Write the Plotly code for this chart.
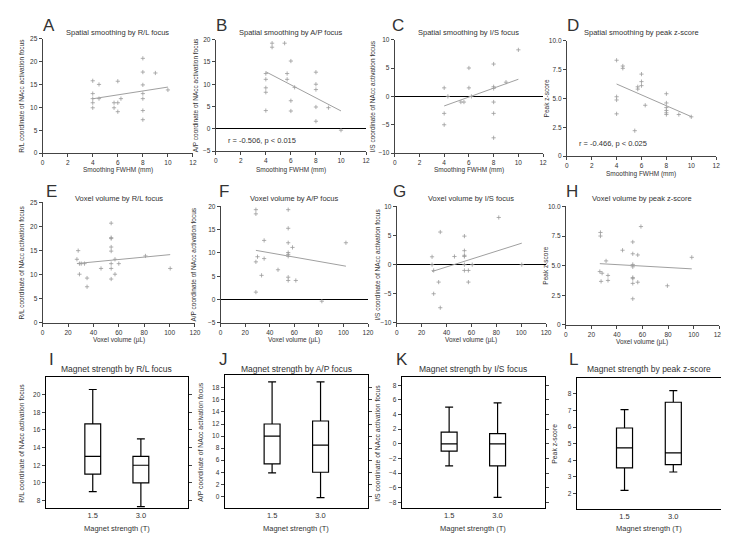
import numpy as np
import plotly.graph_objects as go

W, H = 729, 534

# ---------------- data ----------------
A_x = [4, 4, 4, 4, 4, 4.5, 4.5, 5.7, 5.7, 6, 6, 6, 6.25, 8, 8, 8, 8, 8, 8, 8, 9, 10]
A_y = [15.8, 13, 11.9, 11, 9.9, 15, 11.9, 11, 9.9, 15.7, 11, 9.05, 11.9, 20.7, 17.7, 14.9, 13, 11.9, 9.3, 7.3, 17.5, 13.8]

B_x = [4, 4, 4, 4, 4, 4.5, 4.5, 5.5, 5.7, 5.7, 6, 6, 6, 6.3, 8, 8, 8, 8, 8, 9, 10]
B_y = [12.4, 11.1, 9.2, 8.2, 4.1, 19.2, 18.3, 19.2, 12.4, 11.1, 15.2, 6.3, 4.0, 9.3, 12.7, 10, 8.8, 4.9, 1.7, 4.75, -0.3]

C_x = [4, 4, 4, 4.3, 5.35, 5.6, 6, 6, 6.2, 8, 8, 8, 8, 8, 8, 9, 10]
C_y = [1.5, -3, -5, 0, -1, -1, 5, 1.5, 0, 5.7, 1.7, 1.4, -1, -3, -7.3, 2.5, 8.2]

D_x = [4, 4, 4, 4, 4.5, 4.5, 5.46, 5.7, 5.7, 6, 6, 6, 6.3, 8, 8, 8, 8, 8, 8, 9, 10]
D_y = [8.3, 5.14, 4.86, 3.66, 7.8, 7.6, 2.2, 6.0, 5.8, 7.1, 6.45, 6.1, 4.4, 5.4, 4.6, 4.2, 3.95, 3.75, 3.6, 3.6, 3.4]

E_x = [28, 27, 29, 30.4, 29, 33, 35, 35, 46, 54, 54, 54, 54, 54, 54, 54, 54, 57, 57, 60, 81, 100.5]
E_y = [15, 13.2, 12.3, 12.3, 10.1, 12.3, 9.3, 7.5, 11.3, 20.7, 17.7, 17.5, 15.75, 14.9, 12.3, 11.3, 9.1, 13.2, 10.1, 12.3, 13.9, 11.3]

F_x = [28.7, 28.7, 28.7, 30, 28.7, 33.3, 35.4, 35.4, 46.7, 55, 55, 55, 55, 55, 55, 55, 55, 58.5, 61.2, 82.4, 102]
F_y = [19.3, 18.4, 8.1, 9.2, 1.6, 5.2, 12.7, 8.8, 6.4, 19.3, 15.3, 12.2, 10.1, 9.7, 9.3, 4.8, 4.1, 11.2, 4.1, -0.35, 12.2]

G_x = [28.4, 28.4, 29.7, 29.7, 33.7, 35, 35, 46.4, 54.4, 54.4, 54.4, 54.4, 54.4, 54.4, 57.6, 57.6, 60.7, 82, 100.5]
G_y = [1.35, 0, -1, -5, -3, 5.6, -7.4, 1.4, 4.9, 2.4, 1.6, 1.4, 0, -1, -1, -3, 0, 8.1, 0]

H_x = [27.1, 27.1, 26.6, 28.4, 27.6, 31.5, 33, 33, 44.4, 52.4, 52.4, 52.4, 52.4, 52.4, 52.4, 52.4, 52.4, 56.3, 56.3, 58.8, 79.5, 98.6]
H_y = [7.8, 7.5, 4.5, 4.36, 3.67, 5.4, 4.17, 3.75, 6.3, 7.0, 6.0, 5.1, 4.9, 4.0, 3.9, 3.5, 2.2, 5.9, 3.6, 8.3, 3.3, 5.7]

magnet_cats = ["1.5", "3.0"]
I_low = [9.0, 7.3];  I_q1 = [11.0, 10.0]; I_med = [13.0, 12.0]; I_q3 = [16.7, 13.0]; I_high = [20.6, 15.0]
J_low = [3.9, -0.2]; J_q1 = [5.4, 4.0];   J_med = [10.0, 8.5];  J_q3 = [12.0, 12.5]; J_high = [19.0, 19.0]
K_low = [-3.0, -7.3]; K_q1 = [-1.0, -3.0]; K_med = [0.0, 0.0]; K_q3 = [1.6, 1.4];   K_high = [5.0, 5.6]
L_low = [2.2, 3.3];  L_q1 = [3.55, 3.75]; L_med = [4.75, 4.45]; L_q3 = [5.95, 7.5]; L_high = [7.05, 8.2]

rl_label = "R/L coordinate of NAcc activation focus"
ap_label = "A/P coordinate of NAcc activation focus"
is_label = "I/S coordinate of NAcc activation focus"
z_label = "Peak z-score"

# ---------------- layout helpers ----------------
FONT = "Liberation Sans, Arial, sans-serif"
TXT = "#333333"
AX = "#444444"
PT = "#9a9a9a"

fig = go.Figure()
annotations = []


def dx(l, r):
    return [l / W, r / W]


def dy(t, b):
    return [1 - b / H, 1 - t / H]


def ann(text, x, y, size, xanchor="center", yanchor="middle", angle=0):
    annotations.append(dict(text=text, x=x / W, y=1 - y / H, xref="paper", yref="paper",
                            showarrow=False, xanchor=xanchor, yanchor=yanchor, textangle=angle,
                            font=dict(family=FONT, size=size, color=TXT)))


def scatter_panel(i, xs, ys, box, xr, xticks, yr, yticks, yticktext, zero,
                  letter, title, xtitle, ytitle, ytitle_x, title_y, xtitle_y, letter_xy):
    l, t, r, b = box
    xa, ya = f"x{i}", f"y{i}"
    fig.add_trace(go.Scatter(x=xs, y=ys, mode="markers", xaxis=xa, yaxis=ya,
                             marker=dict(symbol="cross-thin", size=3, color=PT,
                                         line=dict(width=0.8, color=PT)),
                             showlegend=False, hoverinfo="skip"))
    k, c = np.polyfit(xs, ys, 1)
    lx = np.array([min(xs), max(xs)])
    fig.add_trace(go.Scatter(x=lx, y=k * lx + c, mode="lines", xaxis=xa, yaxis=ya,
                             line=dict(color="#a0a0a0", width=1), showlegend=False,
                             hoverinfo="skip"))
    key = "" if i == 1 else str(i)
    fig.layout["xaxis" + key] = dict(domain=dx(l, r), anchor=ya, range=xr, tickvals=xticks,
                                     showline=True, linecolor=AX, linewidth=1, ticks="outside",
                                     ticklen=3, tickcolor=AX, showgrid=False, zeroline=False,
                                     tickfont=dict(family=FONT, size=6.5, color=TXT))
    fig.layout["yaxis" + key] = dict(domain=dy(t, b), anchor=xa, range=yr, tickvals=yticks,
                                     ticktext=yticktext, showline=True, linecolor=AX,
                                     linewidth=1, ticks="outside", ticklen=3, tickcolor=AX,
                                     showgrid=False, zeroline=zero, zerolinecolor="black",
                                     zerolinewidth=1.2,
                                     tickfont=dict(family=FONT, size=6.5, color=TXT))
    ann(title, (l + r) / 2, title_y, 7.5)
    ann(xtitle, (l + r) / 2, xtitle_y, 6.5)
    ann(ytitle, ytitle_x, (t + b) / 2, 6.5, angle=-90)
    ann(letter, letter_xy[0], letter_xy[1], 17, xanchor="left")


def box_panel(i, low, q1, med, q3, high, box, yr, yticks, letter, title, ytitle,
              ytitle_x, letter_xy):
    l, t, r, b = box
    xa, ya = f"x{i}", f"y{i}"
    fig.add_trace(go.Box(x=magnet_cats, q1=q1, median=med, q3=q3, lowerfence=low,
                         upperfence=high, xaxis=xa, yaxis=ya, fillcolor="white",
                         line=dict(color="black", width=1.2), whiskerwidth=0.5,
                         boxpoints=False, showlegend=False, hoverinfo="skip"))
    key = str(i)
    fig.layout["xaxis" + key] = dict(domain=dx(l, r), anchor=ya, type="category",
                                     range=[-0.98, 1.98], showline=True, mirror=True,
                                     linecolor="black", linewidth=1, ticks="", showgrid=False,
                                     tickfont=dict(family=FONT, size=7.5, color=TXT))
    fig.layout["yaxis" + key] = dict(domain=dy(t, b), anchor=xa, range=yr, tickvals=yticks,
                                     showline=True, mirror="allticks", linecolor="black",
                                     linewidth=1, ticks="outside", ticklen=3, tickcolor=AX,
                                     showgrid=False, zeroline=False,
                                     tickfont=dict(family=FONT, size=6.5, color=TXT))
    ann(title, (l + r) / 2, 362, 8.5)
    ann("Magnet strength (T)", (l + r) / 2, 523, 7.5)
    ann(ytitle, ytitle_x, (t + b) / 2, 6.8, angle=-90)
    ann(letter, letter_xy[0], letter_xy[1], 17, xanchor="left")


sm_ticks = [0, 2, 4, 6, 8, 10, 12]
vv_ticks = [0, 20, 40, 60, 80, 100, 120]
rl_ticks = [0, 5, 10, 15, 20, 25]
ap_ticks = [-5, 0, 5, 10, 15, 20]
is_ticks = [-10, -5, 0, 5, 10]
z_ticks = [0, 2.5, 5, 7.5, 10]
z_text = ["0", "2.5", "5.0", "7.5", "10.0"]

# Row 1
scatter_panel(1, A_x, A_y, (33, 27, 185, 143), [0, 12], sm_ticks, [0, 25], rl_ticks, None, False,
              "A", "Spatial smoothing by R/L focus", "Smoothing FWHM (mm)", rl_label, 12, 21, 160, (31, 14))
scatter_panel(2, B_x, B_y, (208, 28, 360, 141), [0, 12], sm_ticks, [-5, 20], ap_ticks, None, True,
              "B", "Spatial smoothing by A/P focus", "Smoothing FWHM (mm)", ap_label, 187, 21, 160, (206, 14))
scatter_panel(3, C_x, C_y, (389, 28, 539, 143), [0, 12], sm_ticks, [-10, 10], is_ticks, None, True,
              "C", "Spatial smoothing by I/S focus", "Smoothing FWHM (mm)", is_label, 366, 21, 160, (384, 14))
scatter_panel(4, D_x, D_y, (563, 29, 714, 146), [0, 12], sm_ticks, [0, 10], z_ticks, z_text, False,
              "D", "Spatial smoothing by peak z-score", "Smoothing FWHM (mm)", z_label, 542, 21, 164, (561, 14))
# Row 2
scatter_panel(5, E_x, E_y, (33, 193, 187, 315), [0, 120], vv_ticks, [0, 25], rl_ticks, None, False,
              "E", "Voxel volume by R/L focus", "Voxel volume (\u00b5L)", rl_label, 12, 189, 332, (34, 182))
scatter_panel(6, F_x, F_y, (213, 197, 362, 315), [0, 120], vv_ticks, [-5, 20], ap_ticks, None, True,
              "F", "Voxel volume by A/P focus", "Voxel volume (\u00b5L)", ap_label, 186, 189, 332, (209, 182))
scatter_panel(7, G_x, G_y, (391, 197, 542, 315), [0, 120], vv_ticks, [-10, 10], is_ticks, None, True,
              "G", "Voxel volume by I/S focus", "Voxel volume (\u00b5L)", is_label, 372, 189, 332, (385, 182))
scatter_panel(8, H_x, H_y, (562, 197, 717, 317), [0, 120], vv_ticks, [0, 10], z_ticks, z_text, False,
              "H", "Voxel volume by peak z-score", "Voxel volume (\u00b5L)", z_label, 542, 189, 334, (560, 182))
# Row 3
box_panel(9, I_low, I_q1, I_med, I_q3, I_high, (36, 370, 180, 503), [7.1, 22],
          [8, 10, 12, 14, 16, 18, 20], "I", "Magnet strength by R/L focus", rl_label, 12, (37, 352))
box_panel(10, J_low, J_q1, J_med, J_q3, J_high, (217, 368, 362, 503), [-2, 20.1],
          [0, 2, 4, 6, 8, 10, 12, 14, 16, 18], "J", "Magnet strength by A/P focus", ap_label, 193, (209, 352))
box_panel(11, K_low, K_q1, K_med, K_q3, K_high, (396, 370, 541, 503), [-8.8, 9.1],
          [-8, -6, -4, -2, 0, 2, 4, 6, 8], "K", "Magnet strength by I/S focus", is_label, 372, (388, 352))
box_panel(12, L_low, L_q1, L_med, L_q3, L_high, (573, 371, 719, 504), [1.05, 8.95],
          [2, 3, 4, 5, 6, 7, 8], "L", "Magnet strength by peak z-score", z_label, 551, (563, 352))

ann("r = -0.506, p < 0.015", 218, 130, 7.5, xanchor="left")
ann("r = -0.466, p < 0.025", 573, 133, 7.5, xanchor="left")

fig.update_layout(width=W, height=H, margin=dict(l=0, r=0, t=0, b=0),
                  paper_bgcolor="white", plot_bgcolor="white", boxgap=0.53,
                  annotations=annotations, font=dict(family=FONT, color=TXT))

fig.write_html("out.html")
